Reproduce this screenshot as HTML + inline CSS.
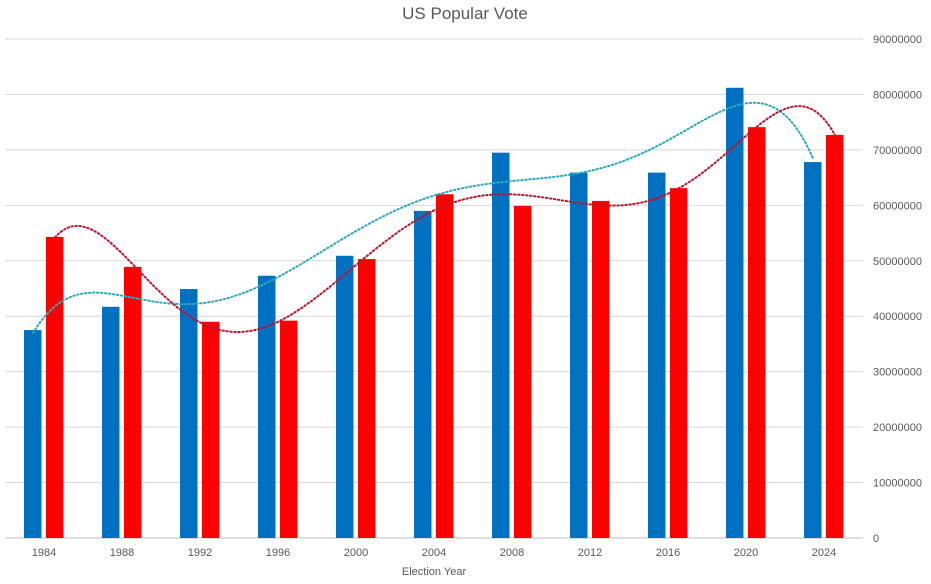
<!DOCTYPE html>
<html><head><meta charset="utf-8"><style>
body{margin:0;background:#fff;font-family:"Liberation Sans",sans-serif}
svg text{font-family:"Liberation Sans",sans-serif}
</style></head><body>
<svg id="c" width="931" height="579">
<text x="465" y="19" text-anchor="middle" font-size="17" fill="#595959">US Popular Vote</text>
<text x="434" y="575" text-anchor="middle" font-size="11" fill="#595959">Election Year</text>
<g id="grid"></g><g id="bars"></g><g id="trends"></g><g id="labels"></g>
</svg>
<script>
const years=["1984","1988","1992","1996","2000","2004","2008","2012","2016","2020","2024"];
const blueVotes=[37.5,41.7,44.9,47.3,50.9,59.0,69.5,65.9,65.9,81.2,67.8];
const redVotes=[54.3,48.9,39.0,39.2,50.3,62.0,59.9,60.8,63.1,74.1,72.7];
const yTicks=[0,10000000,20000000,30000000,40000000,50000000,60000000,70000000,80000000,90000000];
const NS="http://www.w3.org/2000/svg";
const y0=538,y90=39,x0=5,x1=863;
const step=(x1-x0)/years.length;
function ys(v){return y0-(v/90)*(y0-y90);}
function xc(i){return x0+step*(i+0.5);}
function mk(t,a,p){const e=document.createElementNS(NS,t);for(const k in a)e.setAttribute(k,a[k]);p.appendChild(e);return e;}
const grid=document.getElementById('grid'),bars=document.getElementById('bars'),tr=document.getElementById('trends'),lb=document.getElementById('labels');
yTicks.forEach(t=>{const y=ys(t/1e6);
const l=mk('line',{x1:x0,x2:x1,y1:y,y2:y,stroke:t===0?'#bfbfbf':'#d9d9d9','stroke-width':1},grid);


const tx=mk('text',{x:873,y:y+4,'font-size':11,fill:'#595959'},lb);tx.textContent=String(t);

});
years.forEach((yr,i)=>{const c=xc(i);
const b=mk('rect',{x:c-20,y:ys(blueVotes[i]),width:17.5,height:y0-ys(blueVotes[i]),fill:'#0070c0'},bars);


const r=mk('rect',{x:c+2,y:ys(redVotes[i]),width:17.5,height:y0-ys(redVotes[i]),fill:'#ff0000'},bars);


const t=mk('text',{x:c,y:556,'text-anchor':'middle','font-size':11,fill:'#595959'},lb);t.textContent=yr;

});
function polyfit(xs,vs,d){const n=d+1,A=[];for(let r=0;r<n;r++){A.push(new Array(n+1).fill(0));}
for(let k=0;k<xs.length;k++){for(let r=0;r<n;r++){for(let c=0;c<n;c++)A[r][c]+=Math.pow(xs[k],r+c);A[r][n]+=vs[k]*Math.pow(xs[k],r);}}
for(let i=0;i<n;i++){let m=i;for(let j=i+1;j<n;j++)if(Math.abs(A[j][i])>Math.abs(A[m][i]))m=j;[A[i],A[m]]=[A[m],A[i]];
for(let j=0;j<n;j++)if(j!==i){const f=A[j][i]/A[i][i];for(let c=i;c<=n;c++)A[j][c]-=f*A[i][c];}}
return A.map((r,i)=>r[n]/r[i]);}
function trend(vals,off,col,name){const xs=vals.map((v,i)=>(i-5)/5);const co=polyfit(xs,vals,6);let d='';
for(let s=0;s<=200;s++){const u=-1+2*s/200;let v=0;co.forEach((c,k)=>v+=c*Math.pow(u,k));const i=(u*5)+5;
d+=(s?'L':'M')+(xc(i)+off).toFixed(1)+','+ys(v).toFixed(1);}
const p=mk('path',{d:d,fill:'none',stroke:col,'stroke-width':2,'stroke-dasharray':'1.5 2.5','stroke-linecap':'round'},tr);

}
trend(blueVotes,-11,'#2eaabf','democrat-trendline');
trend(redVotes,11,'#c0142a','republican-trendline');
</script>
</body></html>
